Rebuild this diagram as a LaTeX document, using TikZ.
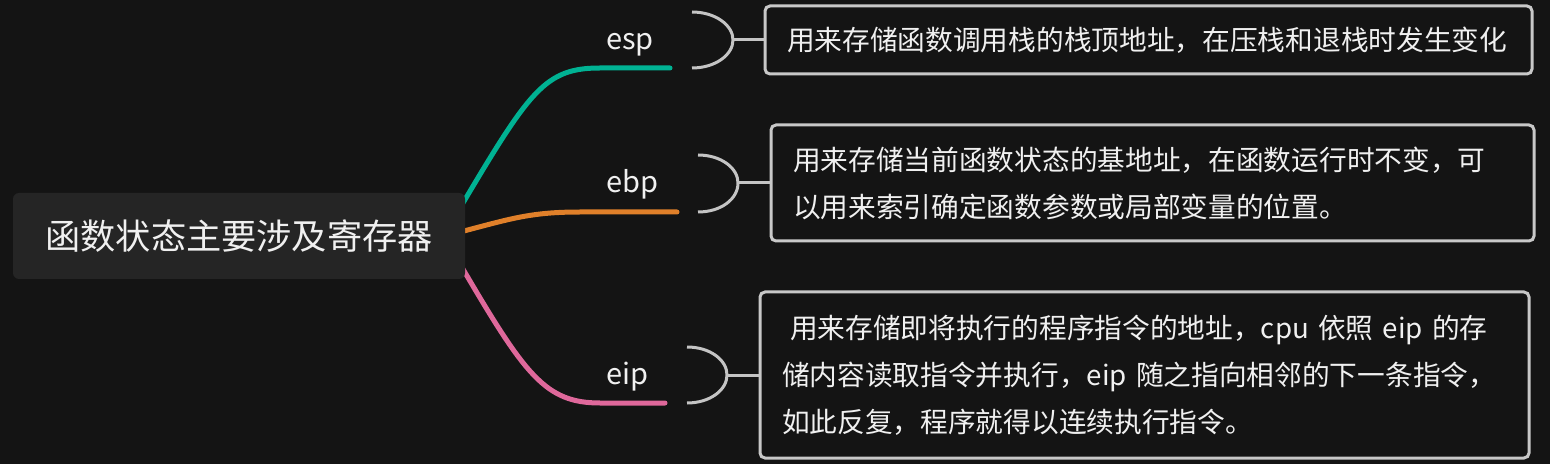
\documentclass[tikz,border=0pt]{standalone}
\usepackage{fontspec}
\setmainfont{Noto Sans CJK SC}
\definecolor{bg}{HTML}{141414}
\definecolor{rootfill}{HTML}{252525}
\definecolor{txt}{HTML}{F0F0F0}
\definecolor{brk}{HTML}{C4C4C4}
\definecolor{boxline}{HTML}{C8C8C8}
\definecolor{cgreen}{HTML}{00B293}
\definecolor{corange}{HTML}{E0802A}
\definecolor{cpink}{HTML}{DF689B}
\tikzset{
  branch/.style={line width=2.5pt, line cap=round},
  brk/.style={draw=brk, line width=1.5pt},
  desc/.style={draw=boxline, line width=1.5pt, rounded corners=2.5pt, fill=bg,
    text=txt, align=left, inner xsep=11pt, inner ysep=0pt,
    font=\fontsize{13.85pt}{23.5pt}\selectfont},
  lab/.style={text=txt, font=\fontsize{14.5pt}{17pt}\selectfont, anchor=base, inner sep=0pt},
  rootbox/.style={fill=rootfill, rounded corners=3pt, text=txt, inner sep=0pt,
    minimum width=226pt, minimum height=43pt, font=\fontsize{17.6pt}{20pt}\selectfont},
}
\begin{document}
\begin{tikzpicture}[x=0.5pt,y=-0.5pt]
\fill[bg] (0,0) rectangle (1550,464);
\useasboundingbox (0,0) rectangle (1550,464);

% branch coordinates
\coordinate (gs) at (460,208);
\coordinate (ge) at (670,68);
\coordinate (os) at (460,232);
\coordinate (oe) at (677,212);
\coordinate (ps) at (460,264);
\coordinate (pe) at (665,403);

\draw[branch, cgreen] (gs) .. controls (530,90) and (545,68) .. (600,68) -- (ge);
\draw[branch, corange] (os) .. controls (510,219) and (530,212) .. (580,212) -- (oe);
\draw[branch, cpink] (ps) .. controls (525,375) and (545,403) .. (600,403) -- (pe);

\node[rootbox] (root) at (239,236) {函数状态主要涉及寄存器};

% labels
\node[lab] (esp) at (630,50) {esp};
\node[lab] (ebp) at (632,193) {ebp};
\node[lab] (eip) at (627,384) {eip};

% description boxes
\node[desc, text width=361.5pt, minimum height=34pt] (d1) at (1148.5,40)
  {用来存储函数调用栈的栈顶地址，在压栈和退栈时发生变化};
\node[desc, text width=359.5pt, minimum height=58pt] (d2) at (1152.5,183)
  {用来存储当前函数状态的基地址，在函数运行时不变，可\\以用来索引确定函数参数或局部变量的位置。};
\node[desc, text width=362.5pt, minimum height=83pt] (d3) at (1144.5,375)
  {\hspace*{4pt}用来存储即将执行的程序指令的地址，cpu~依照~eip~的存\\储内容读取指令并执行，eip~随之指向相邻的下一条指令，\\如此反复，程序就得以连续执行指令。};

% brackets
\coordinate (b1t) at (692,12); \coordinate (b1m) at (733,40); \coordinate (b1b) at (692,68);
\coordinate (b2t) at (698,155); \coordinate (b2m) at (738,183); \coordinate (b2b) at (698,212);
\coordinate (b3t) at (687,347); \coordinate (b3m) at (727,375); \coordinate (b3b) at (687,403);

\draw[brk] (b1t) .. controls (715,12) and (733,25) .. (b1m) .. controls (733,55) and (715,68) .. (b1b);
\draw[brk] (b1m) -- (d1.west);
\draw[brk] (b2t) .. controls (721,155) and (738,168) .. (b2m) .. controls (738,199) and (721,212) .. (b2b);
\draw[brk] (b2m) -- (d2.west);
\draw[brk] (b3t) .. controls (710,347) and (727,360) .. (b3m) .. controls (727,390) and (710,403) .. (b3b);
\draw[brk] (b3m) -- (d3.west);
\end{tikzpicture}
\end{document}
